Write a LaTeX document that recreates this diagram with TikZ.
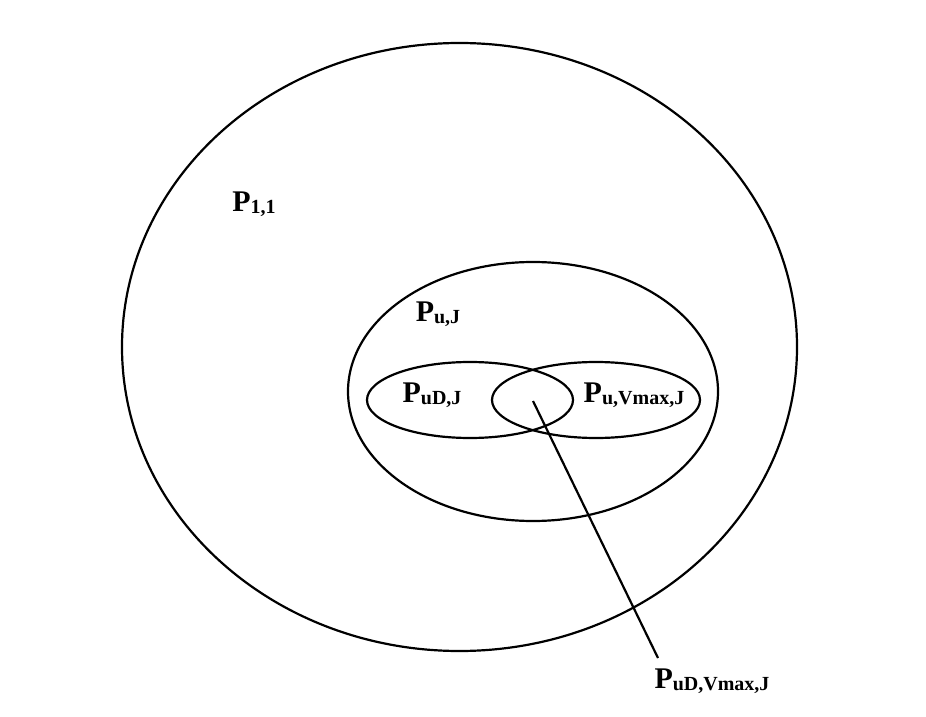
\documentclass[tikz,border=0pt]{standalone}
\usepackage{fontspec}
\setmainfont{Liberation Serif}
\usetikzlibrary{shapes.geometric}
\newcommand{\plab}[1]{\textbf{{\fontsize{30}{30}\selectfont P}\raisebox{-2pt}{\fontsize{20}{20}\selectfont #1}}}
\begin{document}
\begin{tikzpicture}[x=1pt,y=1pt,
  set/.style={draw,ellipse,line width=2.2pt,inner sep=0pt,minimum width=#1},
  lab/.style={inner sep=0pt,anchor=center},
  conn/.style={line width=2.2pt}]
\useasboundingbox (0,0) rectangle (926,716);
\node[set=675pt,minimum height=608pt] (outer) at (459.5,369) {};
\node[set=370pt,minimum height=259pt] (mid) at (533,324.5) {};
\node[set=206pt,minimum height=76pt] (left) at (470,316) {};
\node[set=208pt,minimum height=76pt] (right) at (596,316) {};
\node[lab] (l11) at (254,512) {\plab{1,1}};
\node[lab] (luj) at (438,402) {\plab{u,J}};
\node[lab] (ludj) at (432,321) {\plab{uD,J}};
\node[lab] (luvj) at (634,321) {\plab{u,Vmax,J}};
\node[lab] (luvdj) at (712,35) {\plab{uD,Vmax,J}};
\coordinate (lens) at (533,315);
\coordinate (tip) at (658,58);
\draw[conn] (lens) -- (tip);
\end{tikzpicture}
\end{document}
